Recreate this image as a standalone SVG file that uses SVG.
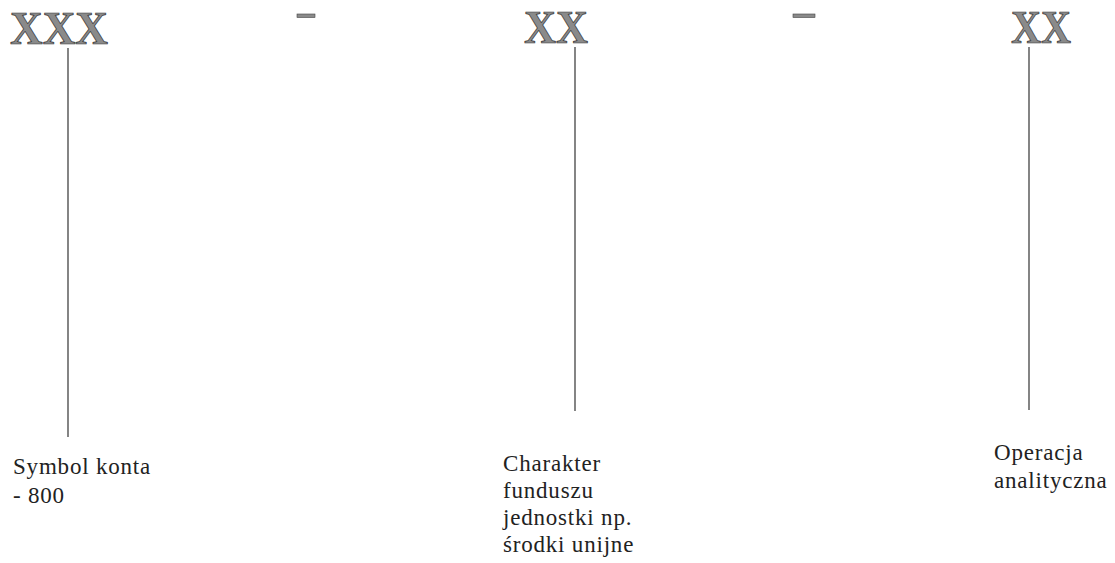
<svg xmlns="http://www.w3.org/2000/svg" width="1115" height="563" viewBox="0 0 1115 563">
<style>
.big{font-family:"Liberation Serif","Times New Roman",serif;font-weight:bold;font-size:47px;fill:#8a8a8a;stroke:#333;stroke-width:0.7}
.lbl{font-family:"Liberation Serif","Times New Roman",serif;font-size:23px;fill:#222;letter-spacing:0.8px}
.dash{fill:#8a8a8a;stroke:#444;stroke-width:0.6}
.ln{stroke:#333;stroke-width:1.2;fill:none}
</style>
<rect width="1115" height="563" fill="#fff"/>
<g id="node-account">
<text class="big" x="10" y="44" textLength="98" lengthAdjust="spacingAndGlyphs">XXX</text>
<text class="lbl" x="13" y="474">Symbol konta</text>
<text class="lbl" x="13" y="503">- 800</text>
</g>
<g id="node-sep1"><rect class="dash" x="297" y="14" width="18" height="3.5"/></g>
<g id="node-fund">
<text class="big" x="524" y="43" textLength="64" lengthAdjust="spacingAndGlyphs">XX</text>
<text class="lbl" x="503" y="471">Charakter</text>
<text class="lbl" x="503" y="498">funduszu</text>
<text class="lbl" x="503" y="525">jednostki np.</text>
<text class="lbl" x="503" y="552">środki unijne</text>
</g>
<g id="node-sep2"><rect class="dash" x="793" y="14" width="22" height="3.5"/></g>
<g id="node-op">
<text class="big" x="1011" y="43" textLength="60" lengthAdjust="spacingAndGlyphs">XX</text>
<text class="lbl" x="994" y="460">Operacja</text>
<text class="lbl" x="994" y="488">analityczna</text>
</g>
<g id="connectors">
<line class="ln" x1="68" y1="48" x2="68" y2="437"/>
<line class="ln" x1="575" y1="47" x2="575" y2="411"/>
<line class="ln" x1="1029" y1="47" x2="1029" y2="410"/>
</g>
</svg>
